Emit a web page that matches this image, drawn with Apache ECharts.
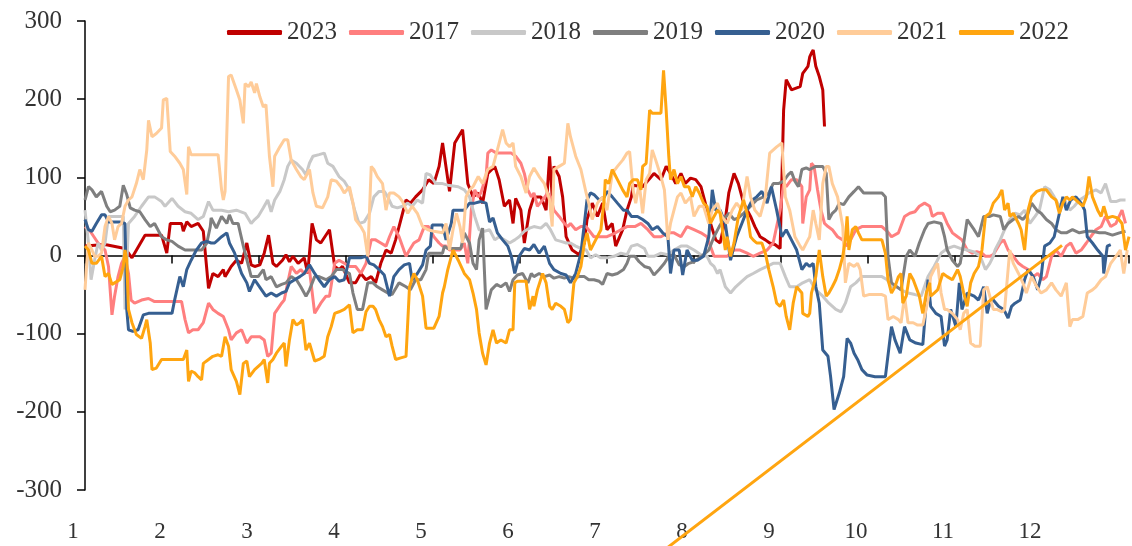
<!DOCTYPE html>
<html>
<head>
<meta charset="utf-8">
<script src="https://cdn.jsdelivr.net/npm/echarts@6/dist/echarts.min.js"></script>
<style>
  html, body { margin: 0; padding: 0; background: #fff; }
  #chart { width: 1132px; height: 546px; }
</style>
</head>
<body>
<div id="chart"></div>
<script>
// x = month (1..13), y = value
const monthTicks = [1, 2, 3, 4, 5, 6, 7, 8, 9, 10, 11, 12];
const yTicks = [-300, -200, -100, 0, 100, 200, 300];

const s2023 = [[1,12],[1.23,14],[1.46,9],[1.54,-3],[1.69,26],[1.88,26],[1.94,3],[1.98,41],[2.11,41],[2.13,31],[2.17,43],[2.22,37],[2.30,41],[2.36,31],[2.42,-42],[2.47,-23],[2.53,-27],[2.59,-18],[2.61,-27],[2.68,-14],[2.74,-6],[2.80,-10],[2.86,16],[2.91,-12],[2.95,-14],
[3.01,-12],[3.06,3],[3.11,26],[3.16,-10],[3.20,-14],[3.27,-6],[3.31,1],[3.35,-8],[3.39,-1],[3.45,-10],[3.52,-3],[3.56,-23],[3.61,41],[3.66,20],[3.71,16],[3.81,33],[3.87,-14],[3.92,-18],[3.96,-14],[4.04,-35],[4.11,-35],[4.17,-23],[4.23,-31],[4.29,-27],[4.34,-35],[4.40,-10],[4.46,7],[4.52,3],[4.57,20],[4.69,71],[4.74,67],[4.80,75],[4.88,84],[4.95,97],[5.01,92],[5.07,114],[5.11,144],
[5.19,82],[5.25,144],[5.34,161],[5.40,92],[5.46,75],[5.52,80],[5.57,67],[5.63,105],[5.71,114],[5.76,97],[5.82,63],[5.88,71],[5.92,41],[5.95,73],[6.01,58],[6.05,16],[6.11,58],[6.16,75],[6.24,75],[6.30,58],[6.34,127],[6.37,75],[6.39,114],[6.45,101],[6.49,75],[6.53,24],[6.60,7],[6.68,1],[6.74,16],[6.77,46],[6.83,67],[6.89,50],[6.95,67],[7.00,33],[7.06,41],[7.10,12],[7.18,33],[7.23,58],
[7.28,75],[7.30,90],[7.41,88],[7.54,105],[7.62,97],[7.68,114],[7.73,105],[7.79,92],[7.85,105],[7.90,92],[7.96,99],[8.02,97],[8.08,88],[8.13,67],[8.19,41],[8.25,20],[8.30,16],[8.36,46],[8.40,80],[8.46,105],[8.51,92],[8.57,67],[8.65,50],[8.70,37],[8.76,24],[8.82,20],[8.87,16],[8.93,14],[8.99,9],[9.03,186],[9.06,225],[9.12,212],[9.22,216],[9.25,233],[9.31,242],[9.33,254],
[9.35,259],[9.37,263],[9.40,242],[9.44,229],[9.48,212],[9.50,165]];

const s2017 = [[1,37],[1.06,31],[1.15,16],[1.23,7],[1.27,-14],[1.31,-76],[1.34,-52],[1.38,-27],[1.42,-10],[1.46,-1],[1.50,-23],[1.53,-57],[1.57,-61],[1.65,-57],[1.73,-55],[1.80,-59],[2.00,-59],[2.11,-59],[2.15,-82],[2.19,-99],[2.24,-95],[2.30,-95],[2.36,-86],[2.42,-61],[2.47,-69],[2.53,-74],[2.59,-78],[2.65,-95],[2.68,-108],[2.74,-99],[2.80,-95],[2.86,-112],[2.91,-104],[2.95,-104],
[3.01,-104],[3.06,-108],[3.10,-129],[3.14,-125],[3.18,-74],[3.26,-61],[3.29,-57],[3.33,-35],[3.37,-14],[3.43,-23],[3.48,-18],[3.52,-23],[3.58,-18],[3.64,-74],[3.71,-61],[3.77,-52],[3.81,-52],[3.87,-10],[3.92,-6],[3.98,-10],[4.04,-14],[4.11,-14],[4.17,-23],[4.23,-10],[4.29,20],[4.34,20],[4.40,16],[4.46,12],[4.50,24],[4.55,37],[4.61,24],[4.69,-1],[4.73,7],[4.78,16],[4.84,20],[4.90,37],[4.95,37],[5.01,24],[5.07,16],[5.11,12],
[5.15,12],[5.19,7],[5.25,7],[5.31,7],[5.36,16],[5.40,-10],[5.44,58],[5.48,84],[5.52,75],[5.55,80],[5.61,101],[5.63,131],[5.67,135],[5.73,131],[5.82,131],[5.90,131],[5.95,127],[6.01,118],[6.05,105],[6.09,84],[6.13,75],[6.16,80],[6.20,63],[6.26,71],[6.32,80],[6.35,75],[6.39,58],[6.45,50],[6.51,41],[6.55,37],[6.58,41],[6.64,33],[6.70,37],[6.76,37],[6.85,24],[6.93,24],[7.00,24],[7.08,28],[7.16,33],[7.23,37],
[7.32,37],[7.39,41],[7.47,33],[7.54,24],[7.62,24],[7.70,29],[7.77,29],[7.85,24],[7.92,37],[8.00,33],[8.08,29],[8.15,24],[8.23,-1],[8.30,-1],[8.38,-1],[8.46,7],[8.53,7],[8.61,3],[8.68,-1],[8.76,3],[8.84,7],[8.91,16],[8.99,58],[9.03,92],[9.06,88],[9.12,97],[9.18,97],[9.24,88],[9.25,41],[9.29,75],[9.33,84],
[9.35,118],[9.38,114],[9.42,84],[9.46,58],[9.50,41],[9.54,37],[9.59,33],[9.65,24],[9.71,20],[9.76,12],[9.80,20],[9.86,33],[9.93,37],[10.05,37],[10.16,37],[10.22,31],[10.27,24],[10.35,29],[10.42,50],[10.48,54],[10.54,56],[10.59,63],[10.65,67],[10.71,63],[10.74,50],[10.80,54],[10.86,54],[10.91,41],[10.97,29],[11.03,24],[11.08,20],[11.14,7],[11.20,3],[11.25,5],[11.31,3],[11.35,-1],[11.40,-1],[11.44,1],
[11.52,16],[11.56,20],[11.61,7],[11.67,-1],[11.73,-10],[11.78,-14],[11.84,-18],[11.90,-27],[11.95,-23],[12.01,-31],[12.05,-27],[12.11,-1],[12.16,7],[12.22,-1],[12.28,12],[12.33,16],[12.39,3],[12.45,7],[12.51,16],[12.56,24],[12.62,33],[12.68,37],[12.73,50],[12.79,37],[12.85,41],[12.92,58],[12.96,41]];

const s2018 = [[1,58],[1.04,16],[1.07,-31],[1.11,-6],[1.15,16],[1.19,7],[1.23,16],[1.27,50],[1.44,50],[1.46,-69],[1.50,41],[1.57,50],[1.65,63],[1.73,75],[1.80,75],[1.88,69],[1.92,63],[2.00,73],[2.07,63],[2.15,56],[2.22,54],[2.30,46],[2.36,50],[2.42,69],[2.47,58],[2.57,58],[2.65,56],[2.74,58],[2.84,54],[2.91,41],[2.95,46],
[2.99,50],[3.05,61],[3.10,71],[3.14,56],[3.18,71],[3.24,82],[3.29,97],[3.33,114],[3.37,122],[3.43,118],[3.50,110],[3.54,103],[3.58,118],[3.62,127],[3.69,129],[3.75,131],[3.79,118],[3.85,114],[3.92,101],[3.98,95],[4.04,84],[4.10,58],[4.15,41],[4.21,43],[4.27,54],[4.32,75],[4.38,82],[4.44,82],[4.48,75],[4.53,63],[4.59,61],[4.65,63],[4.71,67],[4.76,63],[4.82,71],[4.88,67],[4.92,105],[4.97,103],[5.03,92],[5.11,92],
[5.17,90],[5.29,88],[5.36,84],[5.42,75],[5.48,50],[5.53,33],[5.59,31],[5.65,33],[5.71,20],[5.76,24],[5.82,20],[5.88,16],[5.94,20],[5.99,24],[6.05,31],[6.11,35],[6.16,37],[6.24,35],[6.30,41],[6.35,33],[6.41,20],[6.47,18],[6.53,16],[6.58,16],[6.64,12],[6.70,9],[6.76,7],[6.81,-3],[6.87,1],[6.93,-3],[7.00,-3],[7.08,-1],[7.16,3],[7.23,1],
[7.28,12],[7.35,14],[7.43,9],[7.47,-1],[7.54,-1],[7.62,3],[7.70,1],[7.77,7],[7.85,12],[7.92,12],[8.00,7],[8.08,1],[8.15,-1],[8.19,-10],[8.23,-14],[8.27,-23],[8.30,-18],[8.36,-40],[8.42,-48],[8.48,-40],[8.53,-35],[8.61,-27],[8.68,-23],[8.76,-18],[8.84,-14],[8.91,-10],[8.99,-10],[9.05,-27],[9.10,-40],[9.18,-40],[9.25,-35],[9.33,-31],
[9.40,-44],[9.48,-52],[9.55,-61],[9.63,-69],[9.69,-72],[9.74,-61],[9.80,-40],[9.86,-35],[9.93,-27],[10.05,-27],[10.16,-27],[10.22,-31],[10.27,-40],[10.33,-40],[10.38,-44],[10.46,-48],[10.54,-50],[10.61,-52],[10.69,-27],[10.76,-14],[10.84,3],[10.91,9],[10.99,12],[11.06,9],[11.14,7],[11.21,5],[11.29,-1],[11.35,-18],[11.40,-10],[11.44,-1],
[11.46,7],[11.52,20],[11.57,33],[11.63,46],[11.69,54],[11.75,52],[11.80,58],[11.86,41],[11.92,50],[11.97,58],[12.03,88],[12.09,84],[12.14,75],[12.20,63],[12.26,71],[12.32,58],[12.37,63],[12.43,71],[12.49,75],[12.54,80],[12.62,84],[12.68,80],[12.73,92],[12.79,69],[12.85,69],[12.90,71],[12.96,71]];

const s2019 = [[1,71],[1.04,88],[1.08,84],[1.13,75],[1.19,82],[1.25,63],[1.29,56],[1.34,58],[1.40,63],[1.44,90],[1.48,78],[1.52,61],[1.57,58],[1.63,56],[1.69,46],[1.75,37],[1.80,41],[1.88,24],[1.94,20],[2.00,18],[2.07,12],[2.15,7],[2.26,7],[2.34,7],[2.40,16],[2.44,37],[2.45,48],[2.51,35],[2.57,50],[2.63,41],[2.66,52],[2.70,41],[2.76,41],[2.82,12],[2.88,-14],[2.91,-27],[2.95,-27],
[2.99,-27],[3.05,-18],[3.08,-31],[3.14,-27],[3.20,-40],[3.26,-37],[3.31,-35],[3.37,-27],[3.43,-31],[3.48,-40],[3.54,-52],[3.58,-44],[3.64,-27],[3.69,-27],[3.77,-31],[3.83,-27],[3.89,-18],[3.96,-18],[4.04,-23],[4.08,-48],[4.13,-69],[4.19,-69],[4.25,-35],[4.31,-35],[4.36,-40],[4.42,-44],[4.48,-48],[4.53,-50],[4.61,-35],[4.69,-40],[4.74,-44],[4.80,-31],[4.86,-31],[4.92,-18],[4.95,3],[5.03,3],[5.11,3],
[5.13,12],[5.17,9],[5.25,9],[5.32,9],[5.36,29],[5.42,16],[5.46,-10],[5.50,-18],[5.53,20],[5.57,35],[5.61,-69],[5.67,-44],[5.73,-37],[5.78,-40],[5.84,-35],[5.88,-46],[5.92,-31],[5.97,-25],[6.03,-23],[6.09,-35],[6.13,-23],[6.16,-27],[6.22,-23],[6.28,-27],[6.34,-25],[6.39,-29],[6.45,-27],[6.51,-29],[6.56,-27],[6.62,-29],[6.68,-27],[6.74,-27],[6.79,-31],[6.85,-31],[6.91,-33],[6.95,-37],[7.00,-23],[7.06,-25],[7.12,-23],[7.19,-18],[7.23,-10],
[7.26,-1],[7.32,-1],[7.37,-8],[7.43,-14],[7.49,-16],[7.54,-25],[7.60,-18],[7.66,-10],[7.71,-1],[7.77,1],[7.83,-12],[7.89,-14],[7.94,-10],[8.00,-8],[8.06,-3],[8.11,1],[8.17,7],[8.23,24],[8.29,37],[8.34,46],[8.40,54],[8.46,46],[8.51,48],[8.57,54],[8.65,63],[8.72,71],[8.80,75],[8.86,80],[8.91,92],[8.97,92],[9.03,95],[9.08,103],[9.12,107],[9.16,95],[9.20,88],[9.24,110],[9.29,112],[9.33,110],
[9.40,114],[9.48,114],[9.52,105],[9.55,46],[9.59,54],[9.63,58],[9.67,67],[9.72,65],[9.78,75],[9.84,82],[9.89,88],[9.95,80],[10.05,80],[10.16,80],[10.20,75],[10.23,-1],[10.27,-35],[10.33,-40],[10.38,-44],[10.44,-1],[10.48,7],[10.54,-1],[10.59,16],[10.65,33],[10.69,41],[10.76,43],[10.84,41],[10.88,24],[10.91,7],[10.97,-6],[11.03,-14],[11.06,-10],[11.10,16],[11.14,46],[11.22,33],[11.27,24],[11.33,50],[11.40,50],[11.44,52],
[11.46,50],[11.52,50],[11.56,33],[11.61,41],[11.67,46],[11.73,50],[11.78,46],[11.84,54],[11.88,67],[11.94,58],[11.99,54],[12.05,46],[12.11,41],[12.16,33],[12.22,29],[12.28,29],[12.35,33],[12.43,29],[12.51,31],[12.58,31],[12.66,29],[12.73,29],[12.81,26],[12.89,29],[12.96,31]];

const s2020 = [[1,46],[1.04,33],[1.08,31],[1.13,41],[1.19,52],[1.23,52],[1.27,43],[1.33,43],[1.40,43],[1.46,41],[1.48,-69],[1.50,-95],[1.55,-97],[1.61,-95],[1.67,-76],[1.73,-74],[1.80,-74],[1.88,-74],[2.00,-74],[2.03,-57],[2.09,-27],[2.13,-40],[2.17,-18],[2.22,-6],[2.28,7],[2.34,16],[2.40,18],[2.45,16],[2.49,16],[2.53,20],[2.57,24],[2.63,29],[2.66,16],[2.72,3],[2.80,-23],[2.86,-35],[2.89,-46],[2.95,-31],
[2.97,-31],[3.03,-44],[3.08,-52],[3.14,-48],[3.20,-52],[3.26,-48],[3.31,-46],[3.35,-35],[3.41,-31],[3.47,-27],[3.52,-23],[3.58,-12],[3.64,-23],[3.69,-31],[3.75,-40],[3.81,-31],[3.87,-27],[3.92,-33],[3.98,-31],[4.04,-3],[4.11,-3],[4.17,-3],[4.23,-1],[4.27,-10],[4.32,-12],[4.38,-18],[4.44,-25],[4.50,-52],[4.55,-27],[4.61,-18],[4.67,-12],[4.73,-10],[4.76,-31],[4.82,-23],[4.88,-12],[4.92,7],[4.97,12],[4.99,39],[5.05,39],[5.11,39],
[5.15,20],[5.21,41],[5.23,58],[5.29,58],[5.36,58],[5.42,67],[5.48,67],[5.55,69],[5.61,67],[5.65,43],[5.69,48],[5.74,29],[5.80,20],[5.86,12],[5.90,-1],[5.94,-23],[5.99,-1],[6.05,9],[6.11,7],[6.16,14],[6.22,3],[6.28,12],[6.34,-10],[6.39,-18],[6.47,-23],[6.53,-25],[6.58,-35],[6.64,-23],[6.70,3],[6.74,41],[6.77,71],[6.81,80],[6.85,78],[6.91,71],[6.97,75],[7.00,82],[7.06,75],[7.12,67],[7.19,58],[7.23,58],
[7.28,50],[7.35,50],[7.41,46],[7.47,41],[7.52,33],[7.58,37],[7.64,29],[7.70,24],[7.73,-23],[7.77,7],[7.83,7],[7.87,-25],[7.92,7],[7.98,-6],[8.04,-6],[8.11,-1],[8.17,24],[8.21,84],[8.25,58],[8.30,58],[8.36,41],[8.42,-6],[8.46,12],[8.49,24],[8.55,41],[8.61,58],[8.67,71],[8.72,75],[8.78,82],[8.84,67],[8.89,88],[8.95,58],[9.01,24],[9.06,33],[9.12,20],[9.18,7],[9.24,-18],[9.29,-10],[9.33,-14],
[9.37,-10],[9.40,-40],[9.44,-61],[9.48,-121],[9.54,-129],[9.57,-155],[9.61,-197],[9.67,-176],[9.72,-155],[9.76,-106],[9.80,-112],[9.84,-125],[9.88,-133],[9.93,-146],[9.99,-153],[10.08,-155],[10.20,-155],[10.27,-91],[10.31,-108],[10.37,-125],[10.42,-91],[10.48,-108],[10.55,-112],[10.63,-114],[10.69,-31],[10.72,-65],[10.78,-74],[10.84,-78],[10.88,-116],[10.91,-108],[10.95,-69],[11.01,-91],[11.05,-35],[11.08,-69],[11.14,-48],[11.22,-52],[11.27,-57],[11.33,-40],[11.37,-74],[11.40,-61],[11.44,-57],
[11.50,-65],[11.56,-69],[11.61,-80],[11.65,-65],[11.69,-61],[11.75,-57],[11.80,-31],[11.84,-18],[11.90,-27],[11.95,-44],[11.99,-27],[12.03,12],[12.09,16],[12.14,24],[12.20,54],[12.24,75],[12.28,58],[12.33,71],[12.39,75],[12.45,67],[12.49,58],[12.52,24],[12.58,16],[12.64,7],[12.70,-1],[12.71,-23],[12.75,12],[12.79,14]];

const s2021 = [[1,-44],[1.02,-10],[1.04,16],[1.08,7],[1.11,-1],[1.15,-1],[1.19,3],[1.23,37],[1.27,50],[1.31,41],[1.34,20],[1.38,37],[1.42,41],[1.46,63],[1.50,71],[1.54,75],[1.59,92],[1.63,110],[1.67,97],[1.71,135],[1.73,173],[1.77,152],[1.82,156],[1.88,163],[1.90,199],[1.94,201],[1.98,133],[2.03,127],[2.09,118],[2.13,110],[2.17,78],[2.19,139],[2.22,129],[2.30,129],[2.42,129],[2.53,129],[2.57,84],[2.59,71],[2.61,82],[2.65,229],[2.68,231],[2.74,212],[2.78,199],[2.82,169],[2.84,220],[2.88,216],[2.91,222],[2.95,208],
[2.97,220],[3.01,203],[3.05,190],[3.08,193],[3.12,127],[3.16,88],[3.18,127],[3.24,139],[3.29,148],[3.33,148],[3.37,122],[3.43,110],[3.48,101],[3.52,97],[3.58,110],[3.62,80],[3.66,63],[3.73,61],[3.79,75],[3.83,97],[3.89,95],[3.94,88],[3.98,80],[4.04,88],[4.08,67],[4.11,46],[4.17,37],[4.21,29],[4.25,-1],[4.29,114],[4.32,110],[4.36,101],[4.42,92],[4.46,58],[4.50,80],[4.55,80],[4.61,75],[4.65,69],[4.71,54],[4.76,63],[4.82,54],[4.88,37],[4.94,33],[5.01,31],[5.11,29],
[5.15,41],[5.19,7],[5.23,33],[5.27,54],[5.31,37],[5.34,16],[5.38,75],[5.42,84],[5.46,88],[5.52,101],[5.57,92],[5.63,110],[5.69,114],[5.74,135],[5.80,161],[5.84,144],[5.88,139],[5.92,144],[5.95,114],[6.01,101],[6.07,80],[6.11,101],[6.16,112],[6.22,101],[6.28,92],[6.34,71],[6.37,37],[6.39,110],[6.45,114],[6.51,118],[6.55,169],[6.58,152],[6.64,127],[6.70,110],[6.76,80],[6.79,67],[6.83,46],[6.89,67],[6.95,75],[7.00,58],[7.06,105],[7.12,114],[7.18,122],[7.23,131],
[7.26,133],[7.30,84],[7.33,67],[7.37,92],[7.41,54],[7.45,97],[7.49,105],[7.52,135],[7.56,122],[7.62,101],[7.66,84],[7.70,20],[7.73,41],[7.77,58],[7.81,75],[7.85,80],[7.90,67],[7.96,75],[8.00,50],[8.06,63],[8.11,63],[8.17,41],[8.21,58],[8.27,67],[8.32,50],[8.38,41],[8.44,58],[8.49,67],[8.55,58],[8.61,101],[8.65,75],[8.70,58],[8.76,50],[8.82,75],[8.87,131],[8.95,139],[9.01,144],[9.05,75],[9.10,58],[9.16,24],[9.22,12],[9.25,7],[9.31,20],[9.33,24],
[9.37,58],[9.40,41],[9.44,20],[9.48,92],[9.52,114],[9.55,114],[9.59,92],[9.65,75],[9.71,37],[9.74,-35],[9.78,-10],[9.84,-14],[9.88,-10],[9.91,-18],[9.95,-52],[10.01,-50],[10.08,-50],[10.16,-50],[10.20,-52],[10.23,-82],[10.29,-78],[10.35,-82],[10.38,-86],[10.42,-52],[10.46,-86],[10.52,-86],[10.57,-89],[10.63,-89],[10.69,-57],[10.72,-27],[10.76,-18],[10.80,-10],[10.84,-48],[10.88,-69],[10.91,-69],[10.97,-74],[11.03,-82],[11.06,-95],[11.10,-74],[11.14,-69],[11.18,-112],[11.23,-116],[11.29,-116],[11.33,-44],[11.37,-40],[11.40,-52],[11.44,-69],
[11.48,-69],[11.54,-72],[11.57,-69],[11.63,7],[11.67,-10],[11.73,-23],[11.78,-35],[11.82,-48],[11.88,-27],[11.94,-40],[11.99,-48],[12.05,-44],[12.11,-35],[12.16,-44],[12.22,-52],[12.28,-35],[12.32,-91],[12.35,-82],[12.41,-82],[12.47,-78],[12.52,-48],[12.58,-44],[12.62,-40],[12.68,-31],[12.73,-27],[12.79,-10],[12.85,-1],[12.90,7],[12.94,-23],[12.98,7]];

const s2022 = [[1,12],[1.04,7],[1.08,-10],[1.13,-10],[1.19,-1],[1.23,-27],[1.27,-23],[1.31,-37],[1.34,-35],[1.40,-31],[1.44,-14],[1.46,7],[1.48,-6],[1.50,-69],[1.54,-86],[1.59,-101],[1.65,-106],[1.69,-91],[1.71,-82],[1.75,-112],[1.77,-146],[1.82,-144],[1.88,-133],[1.94,-133],[2.13,-133],[2.17,-121],[2.19,-161],[2.22,-148],[2.26,-150],[2.30,-155],[2.34,-159],[2.36,-138],[2.42,-133],[2.47,-129],[2.53,-127],[2.57,-129],[2.61,-104],[2.65,-116],[2.68,-146],[2.74,-161],[2.78,-178],[2.82,-138],[2.86,-135],[2.89,-155],[2.95,-146],
[2.97,-146],[3.03,-138],[3.06,-133],[3.10,-163],[3.12,-138],[3.16,-133],[3.20,-125],[3.26,-116],[3.29,-112],[3.31,-142],[3.35,-108],[3.39,-82],[3.43,-89],[3.47,-86],[3.50,-82],[3.54,-121],[3.58,-112],[3.64,-135],[3.69,-133],[3.75,-129],[3.79,-104],[3.83,-91],[3.87,-74],[3.92,-72],[3.98,-69],[4.04,-63],[4.08,-99],[4.13,-95],[4.19,-95],[4.23,-72],[4.27,-65],[4.31,-65],[4.34,-69],[4.38,-82],[4.42,-91],[4.46,-104],[4.50,-101],[4.53,-116],[4.57,-133],[4.63,-131],[4.69,-129],[4.73,-40],[4.78,-23],[4.82,-31],[4.88,-52],[4.92,-93],[5.01,-93],[5.07,-78],[5.11,-48],
[5.13,-40],[5.17,-18],[5.23,7],[5.29,-6],[5.36,-23],[5.42,-31],[5.46,-48],[5.50,-69],[5.53,-99],[5.57,-125],[5.61,-140],[5.65,-112],[5.69,-95],[5.73,-112],[5.78,-108],[5.84,-112],[5.88,-95],[5.92,-95],[5.94,-35],[5.97,-33],[6.01,-33],[6.07,-33],[6.11,-69],[6.15,-52],[6.16,-65],[6.20,-44],[6.26,-23],[6.30,-35],[6.34,-65],[6.37,-69],[6.41,-61],[6.47,-65],[6.51,-69],[6.55,-86],[6.58,-82],[6.62,-35],[6.66,-27],[6.70,-14],[6.74,16],[6.77,29],[6.81,7],[6.87,20],[6.93,33],[6.97,75],[6.98,97],[7.02,92],[7.06,110],[7.12,97],[7.18,84],[7.23,75],
[7.26,92],[7.30,97],[7.35,97],[7.39,84],[7.41,114],[7.45,118],[7.49,186],[7.52,182],[7.58,182],[7.62,182],[7.65,237],[7.68,186],[7.71,127],[7.73,97],[7.77,110],[7.81,92],[7.85,101],[7.89,88],[7.94,88],[7.98,75],[8.02,88],[8.06,80],[8.11,67],[8.15,63],[8.19,41],[8.23,50],[8.27,58],[8.30,54],[8.36,7],[8.38,24],[8.42,-1],[8.46,16],[8.51,50],[8.57,71],[8.61,54],[8.65,24],[8.68,20],[8.72,16],[8.78,16],[8.82,3],[8.86,-18],[8.91,-40],[8.95,-61],[8.99,-65],[9.03,-57],[9.06,-78],[9.10,-95],[9.14,-61],[9.18,-40],[9.24,-48],[9.25,-74],[9.31,-78],[9.33,-74],
[9.35,-48],[9.40,-27],[9.44,7],[9.48,-27],[9.52,-52],[9.55,-48],[9.59,-40],[9.63,-31],[9.67,-18],[9.71,-1],[9.74,20],[9.76,50],[9.78,7],[9.82,33],[9.86,37],[9.89,29],[9.93,20],[9.99,20],[10.05,20],[10.16,20],[10.20,3],[10.23,-31],[10.27,-48],[10.31,-40],[10.35,-27],[10.38,-23],[10.40,-61],[10.44,-52],[10.48,-23],[10.52,-31],[10.55,-40],[10.59,-52],[10.63,-74],[10.67,-48],[10.71,-35],[10.72,-52],[10.76,-48],[10.80,-44],[10.86,-23],[10.91,-27],[10.97,-31],[11.03,-18],[11.06,-27],[11.10,-48],[11.14,-65],[11.18,-35],[11.22,-23],[11.27,-14],[11.31,7],[11.35,50],[11.40,54],[11.44,67],
[11.50,75],[11.54,84],[11.57,58],[11.61,67],[11.63,50],[11.67,54],[11.73,41],[11.76,33],[11.80,7],[11.84,58],[11.88,75],[11.94,82],[11.99,84],[12.05,84],[12.11,75],[12.16,71],[12.20,54],[12.24,67],[12.28,75],[12.32,71],[12.35,75],[12.41,69],[12.47,63],[12.51,75],[12.54,101],[12.58,75],[12.64,58],[12.68,50],[12.71,63],[12.75,48],[12.81,50],[12.87,48],[12.92,41],[12.96,7],[13.0,24]];

// stray straight segment of the 2022 series seen in the source
const trail2022 = [[12.23,13],[7.0,-433]];

const names = ['2023', '2017', '2018', '2019', '2020', '2021', '2022'];
const colors = ['#C00000', '#FF7F7F', '#C8C8C8', '#7F7F7F', '#365F91', '#FFCC99', '#FFA510'];
const seriesData = [s2023, s2017, s2018, s2019, s2020, s2021, s2022.concat([null], trail2022)];

const font = "'Times New Roman', 'Liberation Serif', serif";
const chart = echarts.init(document.getElementById('chart'));
chart.setOption({
  animation: false,
  backgroundColor: '#fff',
  grid: { left: 85, right: 2, top: 21, bottom: 56 },
  legend: {
    data: names,
    left: 222, top: 15,
    icon: 'roundRect',
    itemWidth: 55, itemHeight: 5, itemGap: 12,
    textStyle: { fontFamily: font, fontSize: 25, color: '#333' }
  },
  xAxis: {
    type: 'value', min: 1, max: 13, interval: 1,
    splitLine: { show: false },
    axisLine: { lineStyle: { color: '#000', width: 1.5 } },
    axisTick: { show: true, inside: false, length: 8, lineStyle: { color: '#000', width: 1.5 } },
    axisLabel: {
      fontFamily: font, fontSize: 23, color: '#333', margin: 30,
      padding: [0, 24, 0, 0],
      formatter: v => monthTicks.indexOf(v) >= 0 ? String(v) : ''
    }
  },
  yAxis: {
    type: 'value', min: yTicks[0], max: yTicks[yTicks.length - 1], interval: 100,
    splitLine: { show: false },
    axisLine: { show: true, lineStyle: { color: '#000', width: 1.5 } },
    axisTick: { show: true, inside: false, length: 8, lineStyle: { color: '#000', width: 1.5 } },
    axisLabel: { fontFamily: font, fontSize: 25, color: '#333', margin: 23 }
  },
  series: names.map((n, i) => ({
    name: n,
    type: 'line',
    data: seriesData[i],
    showSymbol: false,
    connectNulls: false,
    clip: n !== '2022',
    lineStyle: { color: colors[i], width: 3 },
    itemStyle: { color: colors[i] }
  }))
});
</script>
</body>
</html>
